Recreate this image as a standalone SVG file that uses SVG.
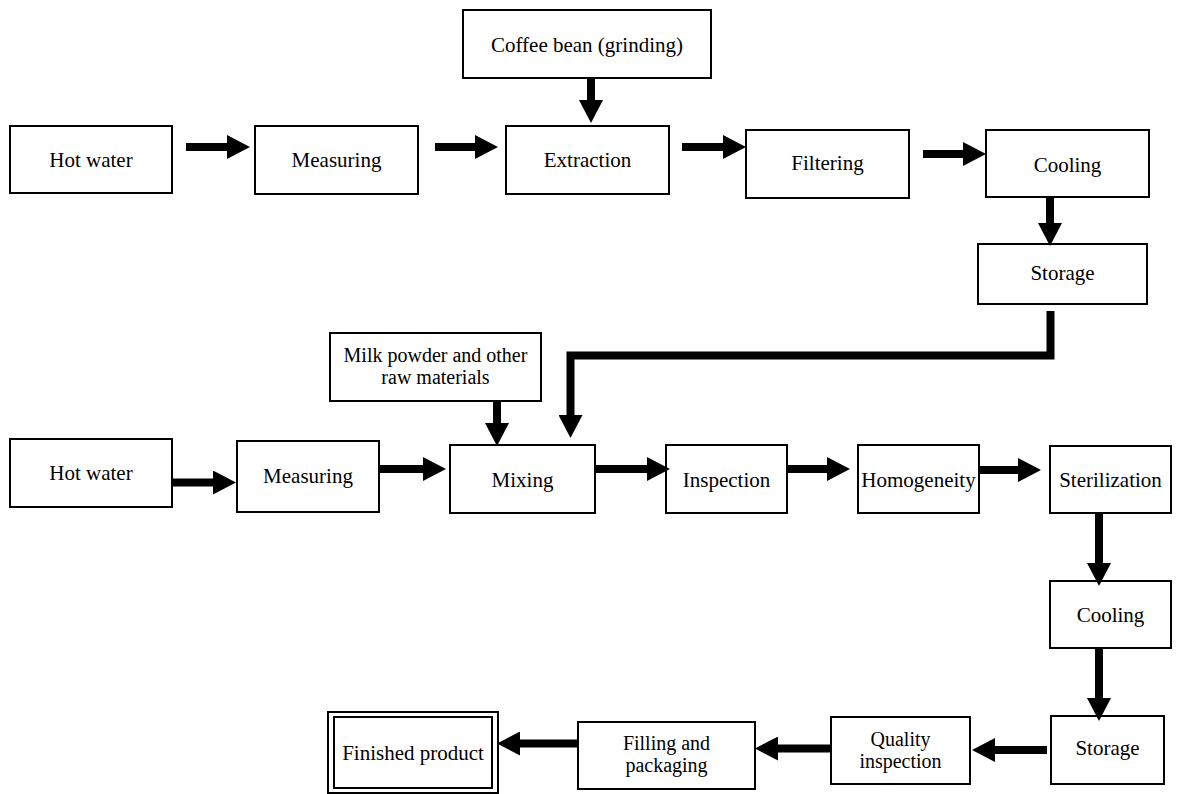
<svg xmlns="http://www.w3.org/2000/svg" width="1178" height="794" viewBox="0 0 1178 794">
  <style>
    .box { fill: #fff; stroke: #000; stroke-width: 2; }
    .lbl { font-family: "Liberation Serif", "Times New Roman", serif; font-size: 21px; fill: #000; text-anchor: middle; }
    .lbl2 { font-size: 20px; }
    .flow { fill: none; stroke: #000; stroke-width: 8; stroke-linejoin: miter; marker-end: url(#head); }
  </style>
  <defs>
    <marker id="head" markerUnits="userSpaceOnUse" markerWidth="24" markerHeight="24" refX="0" refY="12" orient="auto">
      <path d="M0,0 L23,12 L0,24 Z" fill="#000"/>
    </marker>
  </defs>
  <rect width="1178" height="794" fill="#fff"/>

  <!-- coffee extract line -->
  <g id="hot-water-1"><rect class="box" x="10" y="126" width="162" height="67"/><text class="lbl" x="91" y="167">Hot water</text></g>
  <g id="measuring-1"><rect class="box" x="255" y="126" width="163" height="68"/><text class="lbl" x="336.5" y="167">Measuring</text></g>
  <g id="coffee-bean"><rect class="box" x="463" y="10" width="248" height="68"/><text class="lbl" x="587" y="52">Coffee bean (grinding)</text></g>
  <g id="extraction"><rect class="box" x="506" y="126" width="163" height="68"/><text class="lbl" x="587.5" y="167">Extraction</text></g>
  <g id="filtering"><rect class="box" x="746" y="130" width="163" height="68"/><text class="lbl" x="827.5" y="170">Filtering</text></g>
  <g id="cooling-1"><rect class="box" x="986" y="130" width="163" height="67"/><text class="lbl" x="1067.5" y="172">Cooling</text></g>
  <g id="storage-1"><rect class="box" x="978" y="244" width="169" height="60"/><text class="lbl" x="1062.5" y="280">Storage</text></g>

  <!-- blending line -->
  <g id="milk-powder"><rect class="box" x="330" y="333" width="211" height="68"/><text class="lbl lbl2" x="435.5" y="361.5">Milk powder and other</text><text class="lbl lbl2" x="435.5" y="384">raw materials</text></g>
  <g id="hot-water-2"><rect class="box" x="10" y="439" width="162" height="68"/><text class="lbl" x="91" y="480">Hot water</text></g>
  <g id="measuring-2"><rect class="box" x="237" y="441" width="142" height="71"/><text class="lbl" x="308" y="483">Measuring</text></g>
  <g id="mixing"><rect class="box" x="450" y="445" width="145" height="68"/><text class="lbl" x="522.5" y="487">Mixing</text></g>
  <g id="inspection"><rect class="box" x="666" y="445" width="121" height="68"/><text class="lbl" x="726.5" y="487">Inspection</text></g>
  <g id="homogeneity"><rect class="box" x="858" y="445" width="121" height="68"/><text class="lbl" x="918.5" y="487">Homogeneity</text></g>
  <g id="sterilization"><rect class="box" x="1050" y="446" width="121" height="67"/><text class="lbl" x="1110.5" y="487">Sterilization</text></g>
  <g id="cooling-2"><rect class="box" x="1050" y="581" width="121" height="67"/><text class="lbl" x="1110.5" y="622">Cooling</text></g>
  <g id="storage-2"><rect class="box" x="1051" y="716" width="113" height="68"/><text class="lbl" x="1107.5" y="755">Storage</text></g>
  <g id="quality-inspection"><rect class="box" x="831" y="717" width="139" height="67"/><text class="lbl lbl2" x="900.5" y="745.5">Quality</text><text class="lbl lbl2" x="900.5" y="768">inspection</text></g>
  <g id="filling-packaging"><rect class="box" x="578" y="722" width="177" height="67"/><text class="lbl lbl2" x="666.5" y="749.5">Filling and</text><text class="lbl lbl2" x="666.5" y="772">packaging</text></g>
  <g id="finished-product">
    <rect class="box" x="328" y="712" width="170" height="81"/>
    <rect class="box" x="334" y="717" width="158" height="71"/>
    <text class="lbl" x="413" y="760">Finished product</text>
  </g>

  <g id="connectors">
    <path class="flow" d="M186,147 H227"/>
    <path class="flow" d="M435,147 H475"/>
    <path class="flow" d="M591,78 V100"/>
    <path class="flow" d="M682,147 H723"/>
    <path class="flow" d="M923,154 H963"/>
    <path class="flow" d="M1050,197 V223"/>
    <path class="flow" d="M1050.5,311 V355.5 H570.5 V415"/>
    <path class="flow" d="M497,401 V423"/>
    <path class="flow" d="M172,482.5 H213"/>
    <path class="flow" d="M379,469 H423"/>
    <path class="flow" d="M595,469 H647"/>
    <path class="flow" d="M787,469 H827"/>
    <path class="flow" d="M979,470 H1018"/>
    <path class="flow" d="M1099,513 V563"/>
    <path class="flow" d="M1099,648 V698"/>
    <path class="flow" d="M1047,750 H995"/>
    <path class="flow" d="M831,748.5 H778"/>
    <path class="flow" d="M578,743.5 H520"/>
  </g>
</svg>
